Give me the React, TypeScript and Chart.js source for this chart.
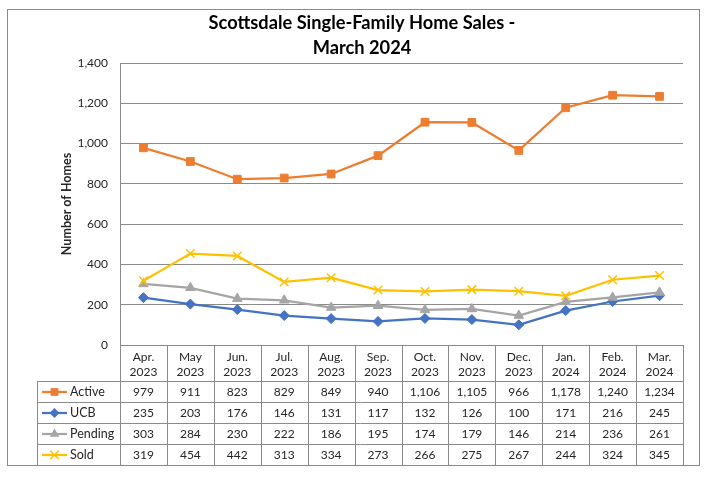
import React, { useEffect, useRef } from "react";
import { Chart, registerables } from "chart.js";

Chart.register(...registerables);

const months = ["Apr.", "May", "Jun.", "Jul.", "Aug.", "Sep.", "Oct.", "Nov.", "Dec.", "Jan.", "Feb.", "Mar."];
const years = ["2023", "2023", "2023", "2023", "2023", "2023", "2023", "2023", "2023", "2024", "2024", "2024"];

const active = [979, 911, 823, 829, 849, 940, 1106, 1105, 966, 1178, 1240, 1234];
const ucb = [235, 203, 176, 146, 131, 117, 132, 126, 100, 171, 216, 245];
const pending = [303, 284, 230, 222, 186, 195, 174, 179, 146, 214, 236, 261];
const sold = [319, 454, 442, 313, 334, 273, 266, 275, 267, 244, 324, 345];

const yTicks = [0, 200, 400, 600, 800, 1000, 1200, 1400];

const titleLines = ["Scottsdale Single-Family Home Sales -", "March 2024"];
const yTitle = "Number of Homes";

const FONT = "Lato, 'Open Sans', sans-serif";
const GRID = "#8a8a8a";
const TEXT = "#262626";

const seriesDefs = [
  { name: "Active", data: active, color: "#ED7D31", style: "rect", radius: 5.5, bw: 1 },
  { name: "UCB", data: ucb, color: "#4472C4", style: "rectRot", radius: 5, bw: 1 },
  { name: "Pending", data: pending, color: "#A5A5A5", style: "triangle", radius: 5.5, bw: 1 },
  { name: "Sold", data: sold, color: "#FFC000", style: "crossRot", radius: 6, bw: 1.5 },
];

function drawMarker(ctx: CanvasRenderingContext2D, style: string, x: number, y: number, r: number, color: string, bw: number) {
  ctx.save();
  ctx.fillStyle = color;
  ctx.strokeStyle = color;
  ctx.lineWidth = bw;
  ctx.beginPath();
  if (style === "rect") {
    const s = Math.SQRT1_2 * r;
    ctx.rect(x - s, y - s, 2 * s, 2 * s);
    ctx.fill();
  } else if (style === "rectRot") {
    ctx.moveTo(x - r, y);
    ctx.lineTo(x, y - r);
    ctx.lineTo(x + r, y);
    ctx.lineTo(x, y + r);
    ctx.closePath();
    ctx.fill();
  } else if (style === "triangle") {
    const h = r;
    ctx.moveTo(x, y - h);
    ctx.lineTo(x + h * 0.866, y + h * 0.5);
    ctx.lineTo(x - h * 0.866, y + h * 0.5);
    ctx.closePath();
    ctx.fill();
  } else {
    const d = r * Math.SQRT1_2;
    ctx.moveTo(x - d, y - d);
    ctx.lineTo(x + d, y + d);
    ctx.moveTo(x + d, y - d);
    ctx.lineTo(x - d, y + d);
    ctx.stroke();
  }
  ctx.restore();
}

const decorPlugin = {
  id: "decor",
  beforeDraw(chart: any) {
    const ctx = chart.ctx as CanvasRenderingContext2D;
    ctx.save();
    ctx.fillStyle = "#ffffff";
    ctx.fillRect(0, 0, chart.width, chart.height);
    ctx.restore();
  },
  afterDraw(chart: any) {
    const ctx = chart.ctx as CanvasRenderingContext2D;
    const area = chart.chartArea;
    const n = months.length;
    const colW = (area.right - area.left) / n;
    const top = Math.round(area.bottom);
    const headerH = 36;
    const rowH = 21;
    const legendLeft = 37;
    const L = Math.round(area.left);
    const R = Math.round(area.right);
    const tableBottom = top + headerH + rowH * seriesDefs.length;

    ctx.save();
    // outer border
    ctx.strokeStyle = GRID;
    ctx.lineWidth = 1;
    ctx.strokeRect(7.5, 9.5, 692, tableBottom - 9);

    // title
    ctx.fillStyle = "#000";
    ctx.textAlign = "center";
    ctx.textBaseline = "alphabetic";
    ctx.font = `bold 18px ${FONT}`;
    const w1 = ctx.measureText(titleLines[0]).width;
    const ts = Math.min(20, 18 * 307 / w1);
    ctx.font = `bold ${ts}px ${FONT}`;
    ctx.fillText(titleLines[0], 362, 29);
    ctx.fillText(titleLines[1], 362, 54);

    // y title
    ctx.save();
    ctx.translate(67, (area.top + area.bottom) / 2);
    ctx.rotate(-Math.PI / 2);
    ctx.font = `bold 12.5px ${FONT}`;
    ctx.fillStyle = TEXT;
    ctx.textBaseline = "middle";
    ctx.fillText(yTitle, 0, 0);
    ctx.restore();

    // table grid
    ctx.strokeStyle = GRID;
    ctx.lineWidth = 1;
    ctx.beginPath();
    for (let i = 0; i <= n; i++) {
      const x = Math.round(area.left + i * colW) + 0.5;
      ctx.moveTo(x, top);
      ctx.lineTo(x, tableBottom + 0.5);
    }
    ctx.moveTo(legendLeft + 0.5, top + headerH);
    ctx.lineTo(legendLeft + 0.5, tableBottom + 0.5);
    ctx.moveTo(L, top + 0.5);
    ctx.lineTo(R + 0.5, top + 0.5);
    for (let r = 0; r <= seriesDefs.length; r++) {
      const y = top + headerH + r * rowH + 0.5;
      ctx.moveTo(legendLeft, y);
      ctx.lineTo(R + 1, y);
    }
    ctx.stroke();

    // header text
    ctx.fillStyle = TEXT;
    ctx.textAlign = "center";
    ctx.textBaseline = "middle";
    ctx.font = `12px ${FONT}`;
    for (let i = 0; i < n; i++) {
      const cx = area.left + (i + 0.5) * colW;
      ctx.fillText(months[i], cx, top + 12);
      ctx.fillText(years[i], cx, top + 27);
    }

    // rows
    seriesDefs.forEach((s, r) => {
      const cy = top + headerH + r * rowH + rowH / 2 + 0.5;
      ctx.save();
      ctx.strokeStyle = s.color;
      ctx.lineWidth = 2.25;
      ctx.beginPath();
      ctx.moveTo(42, cy);
      ctx.lineTo(67, cy);
      ctx.stroke();
      ctx.restore();
      drawMarker(ctx, s.style, 54.5, cy, s.radius, s.color, s.bw);
      ctx.fillStyle = TEXT;
      ctx.textAlign = "left";
      ctx.font = `12.5px ${FONT}`;
      ctx.fillText(s.name, 70, cy);
      ctx.font = `12px ${FONT}`;
      ctx.textAlign = "center";
      for (let i = 0; i < n; i++) {
        const cx = area.left + (i + 0.5) * colW;
        ctx.fillText(s.data[i].toLocaleString("en-US"), cx, cy);
      }
    });
    ctx.restore();
  },
};

export default function App() {
  const ref = useRef<HTMLCanvasElement | null>(null);

  useEffect(() => {
    if (!ref.current) return;
    const labels = months.map((m, i) => `${m} ${years[i]}`);
    const chart = new Chart(ref.current, {
      type: "line",
      data: {
        labels,
        datasets: seriesDefs.map((s, i) => ({
          label: s.name,
          data: s.data,
          borderColor: s.color,
          backgroundColor: s.color,
          pointBackgroundColor: s.color,
          pointBorderColor: s.color,
          pointStyle: s.style as any,
          pointRadius: s.radius,
          pointBorderWidth: s.bw,
          borderWidth: 2.25,
          tension: 0,
          order: seriesDefs.length - i,
        })),
      },
      options: {
        responsive: false,
        animation: false,
        devicePixelRatio: 1,
        layout: { padding: { left: 0, top: 63, right: 26, bottom: 132 } },
        plugins: {
          legend: { display: false },
          title: { display: false },
          tooltip: { enabled: false },
        },
        scales: {
          x: {
            display: false,
            offset: true,
          },
          y: {
            min: 0,
            max: 1400,
            afterFit: (scale: any) => {
              scale.width = 120;
            },
            afterBuildTicks: (scale: any) => {
              scale.ticks = yTicks.map((v) => ({ value: v }));
            },
            grid: { color: GRID, lineWidth: 1, drawTicks: false },
            border: { display: true, color: GRID, width: 1 },
            ticks: {
              padding: 12,
              color: TEXT,
              font: { family: FONT, size: 12 },
              callback: (v: any) => Number(v).toLocaleString("en-US"),
            },
          },
        },
      },
      plugins: [decorPlugin],
    });
    return () => chart.destroy();
  }, []);

  return (
    <div style={{ position: "absolute", left: 0, top: 0, width: 709, height: 477 }}>
      <canvas ref={ref} width={709} height={477} style={{ width: 709, height: 477, display: "block" }} />
    </div>
  );
}
